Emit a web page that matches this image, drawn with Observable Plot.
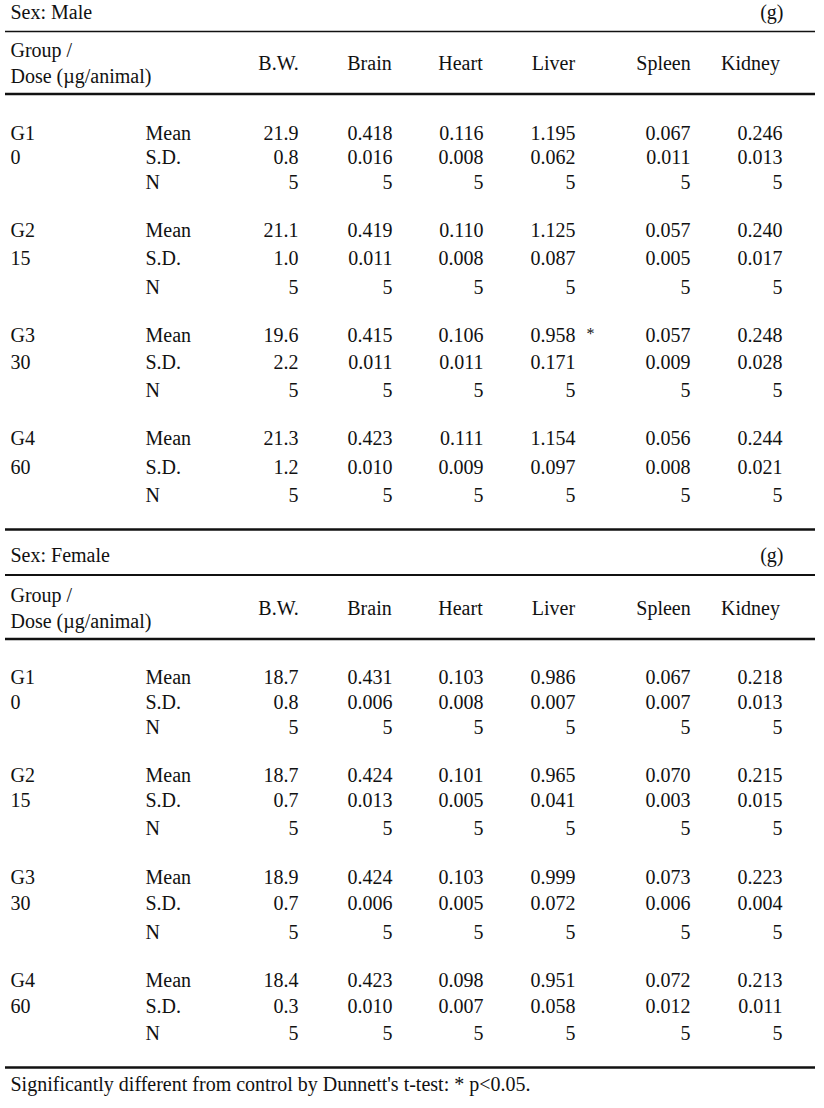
<!DOCTYPE html>
<html><head><meta charset="utf-8">
<script src="https://cdn.jsdelivr.net/npm/d3@7"></script>
<script src="https://cdn.jsdelivr.net/npm/@observablehq/plot@0.6"></script>
<style>body{margin:0;background:#fff}</style>
</head><body><div id="chart"></div>
<script>
// ---------- DATA ----------
const sexes = ["Male", "Female"];
const organs = ["B.W.", "Brain", "Heart", "Liver", "Spleen", "Kidney"];
const groups = ["G1", "G2", "G3", "G4"];
const doses = ["0", "15", "30", "60"];
const statLabels = ["Mean", "S.D.", "N"];
const unitLabel = "(g)";
const headerGroup = ["Group /", "Dose (\u00b5g/animal)"];

const maleMean = [
  [21.9, 0.418, 0.116, 1.195, 0.067, 0.246],
  [21.1, 0.419, 0.110, 1.125, 0.057, 0.240],
  [19.6, 0.415, 0.106, 0.958, 0.057, 0.248],
  [21.3, 0.423, 0.111, 1.154, 0.056, 0.244]
];
const maleSD = [
  [0.8, 0.016, 0.008, 0.062, 0.011, 0.013],
  [1.0, 0.011, 0.008, 0.087, 0.005, 0.017],
  [2.2, 0.011, 0.011, 0.171, 0.009, 0.028],
  [1.2, 0.010, 0.009, 0.097, 0.008, 0.021]
];
const maleN = [
  [5, 5, 5, 5, 5, 5],
  [5, 5, 5, 5, 5, 5],
  [5, 5, 5, 5, 5, 5],
  [5, 5, 5, 5, 5, 5]
];
const femaleMean = [
  [18.7, 0.431, 0.103, 0.986, 0.067, 0.218],
  [18.7, 0.424, 0.101, 0.965, 0.070, 0.215],
  [18.9, 0.424, 0.103, 0.999, 0.073, 0.223],
  [18.4, 0.423, 0.098, 0.951, 0.072, 0.213]
];
const femaleSD = [
  [0.8, 0.006, 0.008, 0.007, 0.007, 0.013],
  [0.7, 0.013, 0.005, 0.041, 0.003, 0.015],
  [0.7, 0.006, 0.005, 0.072, 0.006, 0.004],
  [0.3, 0.010, 0.007, 0.058, 0.012, 0.011]
];
const femaleN = [
  [5, 5, 5, 5, 5, 5],
  [5, 5, 5, 5, 5, 5],
  [5, 5, 5, 5, 5, 5],
  [5, 5, 5, 5, 5, 5]
];
const significant = [{sex: "Male", group: "G3", organ: "Liver", flag: "*"}];
const footnote = "Significantly different from control by Dunnett's t-test: * p<0.05.";

// ---------- LAYOUT ----------
const W = 824, H = 1108;
const FONT = "'Liberation Serif', 'Times New Roman', serif";
const FS = 20;
const lineX1 = 5, lineX2 = 815;
const colRight = [298, 392, 483, 575, 690, 782];
const colHeadCenter = [278, 369, 460, 553, 663, 750];
const groupX = 10, statX = 145, unitRight = 783, flagX = 590;
const layout = {
  Male: {title: 12, head1: 50, head2: 76, headCols: 63,
    lines: [{y: 31, w: 1.6}, {y: 93.5, w: 2.6}],
    rows: [[133, 157, 182], [230, 258, 287], [335, 362, 390], [438, 467, 495]]},
  Female: {title: 555, head1: 595, head2: 621, headCols: 608,
    lines: [{y: 529, w: 2.4}, {y: 574.5, w: 1.8}, {y: 638.5, w: 2.6}],
    rows: [[677, 702, 727], [775, 800, 828], [877, 903, 932], [980, 1006, 1033]]}
};
const bottomLine = {y: 1067, w: 2.4};
const footY = 1084;

// ---------- BUILD CELLS ----------
const tables = {
  Male: [maleMean, maleSD, maleN],
  Female: [femaleMean, femaleSD, femaleN]
};
const fmt = (v, s, c) => s === 2 ? String(v) : (c === 0 ? v.toFixed(1) : v.toFixed(3));

const cells = [], leftTexts = [], rules = [], headCells = [], flags = [];
for (const sex of sexes) {
  const L = layout[sex];
  leftTexts.push({x: groupX, y: L.title, t: "Sex: " + sex});
  leftTexts.push({x: groupX, y: L.head1, t: headerGroup[0]});
  leftTexts.push({x: groupX, y: L.head2, t: headerGroup[1]});
  organs.forEach((o, c) => headCells.push({x: colHeadCenter[c], y: L.headCols, t: o}));
  headCells.push({x: unitRight, y: L.title, t: unitLabel, right: true});
  for (const l of L.lines) rules.push(l);
  groups.forEach((g, gi) => {
    const ys = L.rows[gi];
    leftTexts.push({x: groupX, y: ys[0], t: g});
    leftTexts.push({x: groupX, y: ys[1], t: doses[gi]});
    statLabels.forEach((s, si) => {
      leftTexts.push({x: statX, y: ys[si], t: s});
      organs.forEach((o, c) => {
        cells.push({x: colRight[c], y: ys[si], t: fmt(tables[sex][si][gi][c], si, c)});
      });
    });
  });
}
for (const f of significant) {
  const gi = groups.indexOf(f.group);
  flags.push({x: flagX, y: layout[f.sex].rows[gi][0] - 2, t: f.flag});
}
rules.push(bottomLine);
leftTexts.push({x: groupX, y: footY, t: footnote});

const common = {fontFamily: FONT, fontSize: FS, fill: "#111"};
const chart = Plot.plot({
  width: W, height: H,
  margin: 0,
  x: {type: "identity", axis: null},
  y: {type: "identity", axis: null},
  marks: [
    Plot.ruleY(rules, {y: "y", x1: lineX1, x2: lineX2, strokeWidth: "w", stroke: "#111"}),
    Plot.text(leftTexts, {x: "x", y: "y", text: "t", textAnchor: "start", ...common}),
    Plot.text(headCells.filter(d => !d.right), {x: "x", y: "y", text: "t", textAnchor: "middle", ...common}),
    Plot.text(headCells.filter(d => d.right), {x: "x", y: "y", text: "t", textAnchor: "end", ...common}),
    Plot.text(cells, {x: "x", y: "y", text: "t", textAnchor: "end", ...common}),
    Plot.text(flags, {x: "x", y: "y", text: "t", textAnchor: "middle", ...common, fontSize: 16})
  ]
});
document.getElementById("chart").append(chart);
</script>
</body></html>
